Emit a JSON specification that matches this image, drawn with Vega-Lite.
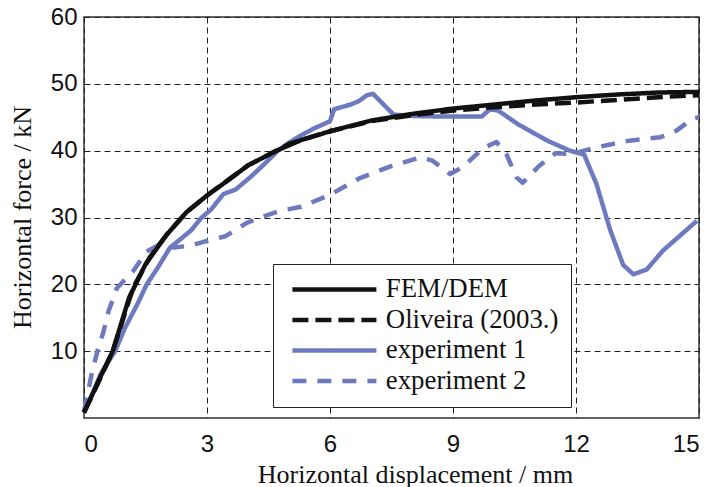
{
  "$schema": "https://vega.github.io/schema/vega-lite/v6.json",
  "width": 615,
  "height": 401,
  "autosize": {"type": "none"},
  "padding": {"left": 84, "top": 17, "right": 17, "bottom": 69},
  "background": "white",
  "config": {
    "view": {"stroke": "#333", "strokeWidth": 1.5},
    "axis": {
      "grid": true,
      "gridColor": "#222",
      "gridDash": [6, 4],
      "gridWidth": 1,
      "gridOpacity": 1,
      "domain": false,
      "ticks": false,
      "labelFont": "Liberation Sans",
      "labelFontSize": 24,
      "labelColor": "#111",
      "titleFont": "Liberation Serif",
      "titleFontSize": 26,
      "titleFontWeight": "normal",
      "titleColor": "#111"
    },
    "legend": {
      "title": null,
      "orient": "none",
      "legendX": 189,
      "legendY": 247,
      "symbolType": "M-8.4,0H8.4",
      "symbolSize": 100,
      "symbolOffset": 36,
      "labelFont": "Liberation Serif",
      "labelFontSize": 26.8,
      "labelColor": "#111",
      "labelLimit": 400,
      "labelOffset": 38,
      "rowPadding": 2.5,
      "strokeColor": "#222",
      "fillColor": "white",
      "padding": 12,
      "zindex": 1
    }
  },
  "data": {
    "values": [
      {"s": "experiment 2", "d": 0, "f": 1},
      {"s": "experiment 2", "d": 0.07, "f": 3},
      {"s": "experiment 2", "d": 0.2, "f": 7},
      {"s": "experiment 2", "d": 0.35, "f": 10.5},
      {"s": "experiment 2", "d": 0.47, "f": 12.8},
      {"s": "experiment 2", "d": 0.6, "f": 16},
      {"s": "experiment 2", "d": 0.8, "f": 19.4},
      {"s": "experiment 2", "d": 0.95, "f": 20.4},
      {"s": "experiment 2", "d": 1.2, "f": 22},
      {"s": "experiment 2", "d": 1.53, "f": 24.9},
      {"s": "experiment 2", "d": 1.8, "f": 25.8},
      {"s": "experiment 2", "d": 2.2, "f": 25.5},
      {"s": "experiment 2", "d": 2.6, "f": 25.8},
      {"s": "experiment 2", "d": 3.0, "f": 26.5},
      {"s": "experiment 2", "d": 3.45, "f": 27.2},
      {"s": "experiment 2", "d": 3.97, "f": 29.2},
      {"s": "experiment 2", "d": 4.3, "f": 30},
      {"s": "experiment 2", "d": 4.78, "f": 31},
      {"s": "experiment 2", "d": 5.3, "f": 31.6},
      {"s": "experiment 2", "d": 6.0, "f": 33.4},
      {"s": "experiment 2", "d": 6.73, "f": 35.9},
      {"s": "experiment 2", "d": 7.46, "f": 37.6},
      {"s": "experiment 2", "d": 8.2, "f": 39},
      {"s": "experiment 2", "d": 8.5, "f": 38.5},
      {"s": "experiment 2", "d": 8.93, "f": 36.5},
      {"s": "experiment 2", "d": 9.25, "f": 37.6},
      {"s": "experiment 2", "d": 9.74, "f": 40.4},
      {"s": "experiment 2", "d": 10.06, "f": 41.3},
      {"s": "experiment 2", "d": 10.3, "f": 39.5},
      {"s": "experiment 2", "d": 10.55, "f": 36},
      {"s": "experiment 2", "d": 10.7, "f": 35.2},
      {"s": "experiment 2", "d": 11.1, "f": 37.7},
      {"s": "experiment 2", "d": 11.5, "f": 39.6},
      {"s": "experiment 2", "d": 11.9, "f": 39.5},
      {"s": "experiment 2", "d": 12.5, "f": 40.5},
      {"s": "experiment 2", "d": 13.3, "f": 41.5},
      {"s": "experiment 2", "d": 14.05, "f": 42},
      {"s": "experiment 2", "d": 14.45, "f": 43},
      {"s": "experiment 2", "d": 14.85, "f": 44.8},
      {"s": "experiment 2", "d": 15, "f": 45},
      {"s": "experiment 1", "d": 0, "f": 1},
      {"s": "experiment 1", "d": 0.2, "f": 3.5},
      {"s": "experiment 1", "d": 0.4, "f": 6.5},
      {"s": "experiment 1", "d": 0.6, "f": 8.5},
      {"s": "experiment 1", "d": 0.76, "f": 10},
      {"s": "experiment 1", "d": 1.0, "f": 13.5},
      {"s": "experiment 1", "d": 1.3, "f": 17},
      {"s": "experiment 1", "d": 1.53, "f": 20},
      {"s": "experiment 1", "d": 1.8, "f": 22.5},
      {"s": "experiment 1", "d": 2.1, "f": 25.5},
      {"s": "experiment 1", "d": 2.3, "f": 26.5},
      {"s": "experiment 1", "d": 2.6, "f": 28},
      {"s": "experiment 1", "d": 2.87, "f": 30},
      {"s": "experiment 1", "d": 3.1, "f": 31.2},
      {"s": "experiment 1", "d": 3.4, "f": 33.5},
      {"s": "experiment 1", "d": 3.7, "f": 34.2},
      {"s": "experiment 1", "d": 4.05, "f": 36},
      {"s": "experiment 1", "d": 4.4, "f": 38},
      {"s": "experiment 1", "d": 4.73, "f": 40},
      {"s": "experiment 1", "d": 5.0, "f": 41.2},
      {"s": "experiment 1", "d": 5.27, "f": 42.2},
      {"s": "experiment 1", "d": 5.6, "f": 43.3},
      {"s": "experiment 1", "d": 6.0, "f": 44.4},
      {"s": "experiment 1", "d": 6.1, "f": 46.2},
      {"s": "experiment 1", "d": 6.5, "f": 46.9},
      {"s": "experiment 1", "d": 6.7, "f": 47.4},
      {"s": "experiment 1", "d": 6.9, "f": 48.3},
      {"s": "experiment 1", "d": 7.05, "f": 48.5},
      {"s": "experiment 1", "d": 7.55, "f": 45.4},
      {"s": "experiment 1", "d": 8.0, "f": 45.2},
      {"s": "experiment 1", "d": 8.7, "f": 45.1},
      {"s": "experiment 1", "d": 9.2, "f": 45.1},
      {"s": "experiment 1", "d": 9.7, "f": 45.1},
      {"s": "experiment 1", "d": 9.9, "f": 46.2},
      {"s": "experiment 1", "d": 10.1, "f": 46.0},
      {"s": "experiment 1", "d": 10.6, "f": 43.9},
      {"s": "experiment 1", "d": 11.3, "f": 41.5},
      {"s": "experiment 1", "d": 11.85, "f": 40},
      {"s": "experiment 1", "d": 12.2, "f": 39.4},
      {"s": "experiment 1", "d": 12.5, "f": 35},
      {"s": "experiment 1", "d": 12.83, "f": 28.2},
      {"s": "experiment 1", "d": 13.15, "f": 22.9},
      {"s": "experiment 1", "d": 13.4, "f": 21.5},
      {"s": "experiment 1", "d": 13.72, "f": 22.2},
      {"s": "experiment 1", "d": 14.13, "f": 25.1},
      {"s": "experiment 1", "d": 14.54, "f": 27.3},
      {"s": "experiment 1", "d": 14.95, "f": 29.5},
      {"s": "Oliveira (2003.)", "d": 0, "f": 0.8},
      {"s": "Oliveira (2003.)", "d": 0.35, "f": 5.3},
      {"s": "Oliveira (2003.)", "d": 0.7, "f": 10},
      {"s": "Oliveira (2003.)", "d": 1.2, "f": 19.5},
      {"s": "Oliveira (2003.)", "d": 1.6, "f": 24},
      {"s": "Oliveira (2003.)", "d": 2.0, "f": 27.3},
      {"s": "Oliveira (2003.)", "d": 2.5, "f": 30.8},
      {"s": "Oliveira (2003.)", "d": 3.0, "f": 33.3},
      {"s": "Oliveira (2003.)", "d": 4.0, "f": 37.8},
      {"s": "Oliveira (2003.)", "d": 5.0, "f": 41},
      {"s": "Oliveira (2003.)", "d": 6.0, "f": 42.9},
      {"s": "Oliveira (2003.)", "d": 7.0, "f": 44.4},
      {"s": "Oliveira (2003.)", "d": 8.0, "f": 45.3},
      {"s": "Oliveira (2003.)", "d": 9.0, "f": 46.0},
      {"s": "Oliveira (2003.)", "d": 10.0, "f": 46.5},
      {"s": "Oliveira (2003.)", "d": 11.0, "f": 46.9},
      {"s": "Oliveira (2003.)", "d": 12.0, "f": 47.2},
      {"s": "Oliveira (2003.)", "d": 13.0, "f": 47.6},
      {"s": "Oliveira (2003.)", "d": 14.0, "f": 48.0},
      {"s": "Oliveira (2003.)", "d": 15.0, "f": 48.3},
      {"s": "FEM/DEM", "d": 0, "f": 0.8},
      {"s": "FEM/DEM", "d": 0.35, "f": 5.5},
      {"s": "FEM/DEM", "d": 0.7, "f": 10},
      {"s": "FEM/DEM", "d": 1.1, "f": 18},
      {"s": "FEM/DEM", "d": 1.5, "f": 23},
      {"s": "FEM/DEM", "d": 2.0, "f": 27.3},
      {"s": "FEM/DEM", "d": 2.5, "f": 30.8},
      {"s": "FEM/DEM", "d": 3.0, "f": 33.3},
      {"s": "FEM/DEM", "d": 3.5, "f": 35.5},
      {"s": "FEM/DEM", "d": 4.0, "f": 37.8},
      {"s": "FEM/DEM", "d": 4.7, "f": 40},
      {"s": "FEM/DEM", "d": 5.3, "f": 41.6},
      {"s": "FEM/DEM", "d": 6.0, "f": 42.9},
      {"s": "FEM/DEM", "d": 7.0, "f": 44.5},
      {"s": "FEM/DEM", "d": 8.0, "f": 45.5},
      {"s": "FEM/DEM", "d": 9.0, "f": 46.3},
      {"s": "FEM/DEM", "d": 10.0, "f": 46.9},
      {"s": "FEM/DEM", "d": 11.0, "f": 47.5},
      {"s": "FEM/DEM", "d": 12.0, "f": 48.0},
      {"s": "FEM/DEM", "d": 13.0, "f": 48.4},
      {"s": "FEM/DEM", "d": 14.0, "f": 48.7},
      {"s": "FEM/DEM", "d": 15.0, "f": 48.8}
    ]
  },
  "mark": {"type": "line", "strokeCap": "butt", "strokeJoin": "round"},
  "encoding": {
    "x": {
      "field": "d",
      "type": "quantitative",
      "scale": {"domain": [0, 15], "nice": false},
      "axis": {
        "values": [0, 3, 6, 9, 12, 15],
        "title": "Horizontal displacement / mm",
        "labelPadding": 14,
        "titleX": 331,
        "titleY": 56,
        "titleBaseline": "middle",
        "titleAlign": "center"
      }
    },
    "y": {
      "field": "f",
      "type": "quantitative",
      "scale": {"domain": [0, 60], "nice": false},
      "axis": {
        "values": [10, 20, 30, 40, 50, 60],
        "title": "Horizontal force / kN",
        "labelPadding": 7,
        "titleX": -62,
        "titleY": 200,
        "titleAngle": -90,
        "titleBaseline": "middle",
        "titleAlign": "center"
      }
    },
    "color": {
      "field": "s",
      "type": "nominal",
      "scale": {
        "domain": ["FEM/DEM", "Oliveira (2003.)", "experiment 1", "experiment 2"],
        "range": ["#111111", "#111111", "#6e7abf", "#6e7abf"]
      }
    },
    "strokeDash": {
      "field": "s",
      "type": "nominal",
      "scale": {
        "domain": ["FEM/DEM", "Oliveira (2003.)", "experiment 1", "experiment 2"],
        "range": [[1, 0], [16, 7], [1, 0], [14, 11]]
      }
    },
    "strokeWidth": {
      "field": "s",
      "type": "nominal",
      "scale": {
        "domain": ["FEM/DEM", "Oliveira (2003.)", "experiment 1", "experiment 2"],
        "range": [4.5, 4.5, 1.8, 1.8]
      }
    }
  }
}
